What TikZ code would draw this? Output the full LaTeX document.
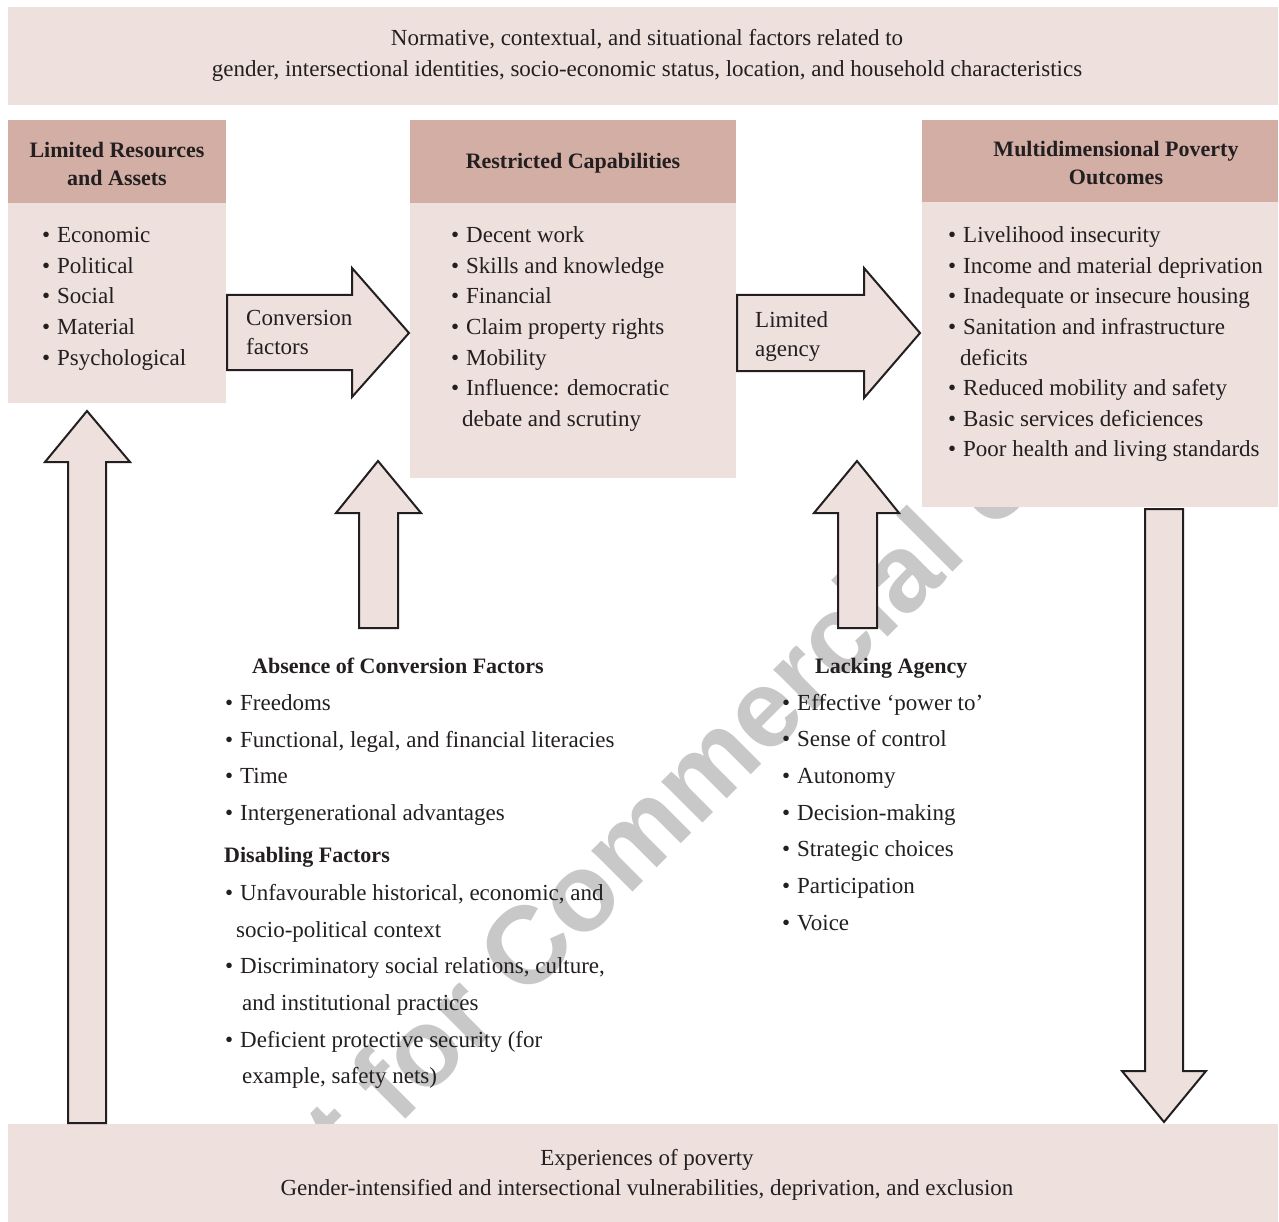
\documentclass[tikz,border=0pt]{standalone}
\usepackage{fontspec}
\setmainfont{Liberation Serif}
\newfontfamily\wmfont{Liberation Sans}
\definecolor{boxlight}{RGB}{237,224,221}
\definecolor{boxdark}{RGB}{210,174,164}
\definecolor{edgec}{RGB}{35,31,32}
\definecolor{wmc}{RGB}{200,200,200}
\newcommand\mybul{\makebox[15pt][l]{\textbullet}}
\begin{document}
\begin{tikzpicture}[x=1pt,y=-1pt,
  lightbox/.style={fill=boxlight, draw=none, inner sep=0pt, outer sep=0pt, anchor=north west},
  darkbox/.style={fill=boxdark, draw=none, inner sep=0pt, outer sep=0pt, anchor=north west},
  txt/.style={inner sep=0pt, text=edgec, font=\fontsize{23}{28}\selectfont, anchor=base west},
  ctxt/.style={txt, anchor=base},
  hdr/.style={inner sep=0pt, text=edgec, font=\bfseries\fontsize{22}{26}\selectfont, anchor=base},
  hdrl/.style={hdr, anchor=base west},
  blockarr/.style={draw=edgec, fill=boxlight, line width=2pt, line join=miter},
  wmark/.style={inner sep=0pt, text=wmc, font=\wmfont\bfseries\fontsize{110}{110}\selectfont}]
\fill[white] (0,0) rectangle (1279,1222);
\useasboundingbox (0,0) rectangle (1279,1222);

% watermark (behind everything)
\node[wmark, rotate=45] (wm) at (663,807) {Not for Commercial Use};

% top and bottom bands
\node[lightbox, minimum width=1270pt, minimum height=98pt] (top) at (8,7) {};
\node[lightbox, minimum width=1270pt, minimum height=98pt] (bottom) at (8,1124) {};
\node[ctxt] (top1) at (647,46) {Normative, contextual, and situational factors related to};
\node[ctxt] (top2) at (647,77) {gender, intersectional identities, socio-economic status, location, and household characteristics};
\node[ctxt] (bot1) at (647,1165) {Experiences of poverty};
\node[ctxt] (bot2) at (647,1195) {Gender-intensified and intersectional vulnerabilities, deprivation, and exclusion};

% three boxes
\node[darkbox, minimum width=218pt, minimum height=83pt] (lrH) at (8,120) {};
\node[lightbox, minimum width=218pt, minimum height=200pt] (lrB) at (8,203) {};
\node[darkbox, minimum width=326pt, minimum height=83pt] (rcH) at (410,120) {};
\node[lightbox, minimum width=326pt, minimum height=275pt] (rcB) at (410,203) {};
\node[darkbox, minimum width=356pt, minimum height=82pt] (mpH) at (922,120) {};
\node[lightbox, minimum width=356pt, minimum height=305pt] (mpB) at (922,202) {};

\node[hdr] (lrh1) at (117,158) {Limited Resources};
\node[hdr] (lrh2) at (117,186) {and Assets};
\node[hdr] (rch) at (573,169) {Restricted Capabilities};
\node[hdr] (mph1) at (1116,157) {Multidimensional Poverty};
\node[hdr] (mph2) at (1116,185) {Outcomes};

\foreach \t [count=\i] in {Economic,Political,Social,Material,Psychological}
  \node[txt] (lr-\i) at (42,{243+30.5*(\i-1)}) {\mybul\t};

\foreach \t [count=\i] in {Decent work,Skills and knowledge,Financial,Claim property rights,Mobility,Influence: democratic}
  \node[txt] (rc-\i) at (451,{243+30.5*(\i-1)}) {\mybul\t};
\node[txt] (rc-7) at (462,426) {debate and scrutiny};

\node[txt] (mp-1) at (948,243) {\mybul Livelihood insecurity};
\node[txt] (mp-2) at (948,273.5) {\mybul Income and material deprivation};
\node[txt] (mp-3) at (948,304) {\mybul Inadequate or insecure housing};
\node[txt] (mp-4) at (948,334.5) {\mybul Sanitation and infrastructure};
\node[txt] (mp-5) at (960,365) {deficits};
\node[txt] (mp-6) at (948,395.5) {\mybul Reduced mobility and safety};
\node[txt] (mp-7) at (948,426) {\mybul Basic services deficiences};
\node[txt] (mp-8) at (948,456.5) {\mybul Poor health and living standards};

% horizontal block arrows
\draw[blockarr] (227,295) -- (352,295) -- (352,268) -- (409,333) -- (352,397) -- (352,370) -- (227,370) -- cycle;
\node[txt] (cf1) at (246,326) {Conversion};
\node[txt] (cf2) at (246,355) {factors};
\draw[blockarr] (737,295) -- (864,295) -- (864,268) -- (920,333) -- (864,398) -- (864,371) -- (737,371) -- cycle;
\node[txt] (la1) at (755,327) {Limited};
\node[txt] (la2) at (755,356) {agency};

% small up arrows
\draw[blockarr] (359,628) -- (359,513) -- (336,513) -- (378,461) -- (421,513) -- (398,513) -- (398,628) -- cycle;
\draw[blockarr] (838,628) -- (838,513) -- (814,513) -- (857,461) -- (899,513) -- (877,513) -- (877,628) -- cycle;

% big side arrows
\draw[blockarr] (68,1123) -- (68,462) -- (45,462) -- (87,411) -- (130,462) -- (106,462) -- (106,1123) -- cycle;
\draw[blockarr] (1145,509) -- (1145,1071) -- (1122,1071) -- (1164,1122) -- (1206,1071) -- (1183,1071) -- (1183,509) -- cycle;

% lower left text
\node[hdrl] (acf) at (252,673) {Absence of Conversion Factors};
\node[txt] (acf-1) at (225,710) {\mybul Freedoms};
\node[txt] (acf-2) at (225,747) {\mybul Functional, legal, and financial literacies};
\node[txt] (acf-3) at (225,783) {\mybul Time};
\node[txt] (acf-4) at (225,820) {\mybul Intergenerational advantages};
\node[hdrl] (df) at (224,862) {Disabling Factors};
\node[txt] (df-1) at (225,900) {\mybul Unfavourable historical, economic, and};
\node[txt] (df-2) at (236,937) {socio-political context};
\node[txt] (df-3) at (225,973) {\mybul Discriminatory social relations, culture,};
\node[txt] (df-4) at (242,1010) {and institutional practices};
\node[txt] (df-5) at (225,1047) {\mybul Deficient protective security (for};
\node[txt] (df-6) at (242,1083) {example, safety nets)};

% lower right text
\node[hdrl] (lag) at (815,673) {Lacking Agency};
\foreach \t [count=\i] in {Effective ‘power to’,Sense of control,Autonomy,Decision-making,Strategic choices,Participation,Voice}
  \node[txt] (lag-\i) at (782,{710+36.67*(\i-1)}) {\mybul\t};
\end{tikzpicture}
\end{document}
